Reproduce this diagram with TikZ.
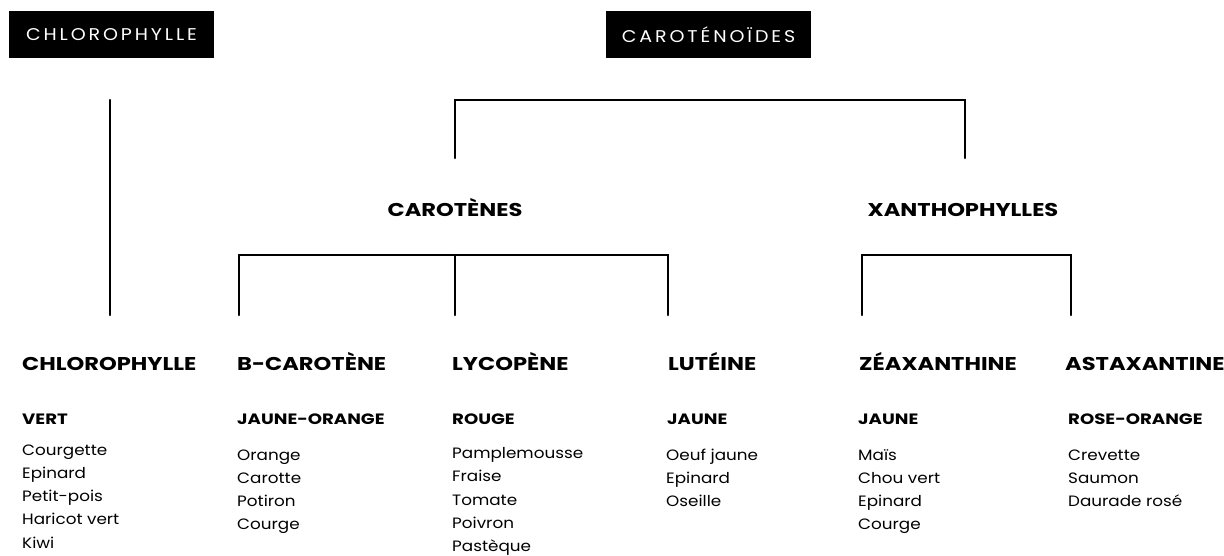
\documentclass[tikz,border=0pt]{standalone}
\usepackage{fontspec}
\setmainfont{Poppins}
\newfontfamily\boxfont[LetterSpace=17,FakeStretch=1.12]{Poppins}
\newfontfamily\headfont[FakeStretch=1.22]{Poppins}
\newfontfamily\colfont[FakeStretch=1.21]{Poppins}
\newfontfamily\itemfont[FakeStretch=1.12]{Poppins}
\begin{document}
\begin{tikzpicture}[x=1pt,y=-1pt,
  blackbox/.style={fill=black,minimum width=205pt,minimum height=47pt,inner sep=0pt,text=white,font=\boxfont\fontsize{17}{17}\selectfont},
  group/.style={font=\headfont\bfseries\fontsize{18.5}{18.5}\selectfont,inner sep=0pt,anchor=base},
  pigment/.style={font=\headfont\bfseries\fontsize{18.5}{18.5}\selectfont,inner sep=0pt,anchor=base west},
  colourlbl/.style={font=\colfont\bfseries\fontsize{15}{15}\selectfont,inner sep=0pt,anchor=base west},
  foodlist/.style={font=\itemfont\fontsize{15}{23.2}\selectfont,inner sep=0pt,anchor=base west,align=left},
  link/.style={line width=2.5pt,line cap=round}]
\useasboundingbox (0,0) rectangle (1224,555);
\fill[white] (0,0) rectangle (1224,555);

% top boxes
\node[blackbox] (boxchl) at (111.5,34.5) {CHLOROPHYLLE};
\node[blackbox] (boxcar) at (708.5,34.5) {CAROTÉNOÏDES};

% group labels
\node[group] (car) at (455,216) {CAROTÈNES};
\node[group] (xan) at (963,216) {XANTHOPHYLLES};

% pigments
\node[pigment] (p1) at (22,370) {CHLOROPHYLLE};
\node[pigment] (p2) at (237,370) {B-CAROTÈNE};
\node[pigment] (p3) at (452,370) {LYCOPÈNE};
\node[pigment] (p4) at (668,370) {LUTÉINE};
\node[pigment] (p5) at (859,370) {ZÉAXANTHINE};
\node[pigment] (p6) at (1065,370) {ASTAXANTINE};

% colours
\node[colourlbl] (c1) at (22,424.5) {VERT};
\node[colourlbl] (c2) at (237,424.5) {JAUNE-ORANGE};
\node[colourlbl] (c3) at (452,424.5) {ROUGE};
\node[colourlbl] (c4) at (667,424.5) {JAUNE};
\node[colourlbl] (c5) at (858,424.5) {JAUNE};
\node[colourlbl] (c6) at (1068,424.5) {ROSE-ORANGE};

% foods (anchored on the baseline of the last line)
\node[foodlist] (f1) at (22,548) {Courgette\\Epinard\\Petit-pois\\Haricot vert\\Kiwi};
\node[foodlist] (f2) at (237,529.6) {Orange\\Carotte\\Potiron\\Courge};
\node[foodlist] (f3) at (452,551.5) {Pamplemousse\\Fraise\\Tomate\\Poivron\\Pastèque};
\node[foodlist] (f4) at (666,506.4) {Oeuf jaune\\Epinard\\Oseille};
\node[foodlist] (f5) at (858,529.6) {Maïs\\Chou vert\\Epinard\\Courge};
\node[foodlist] (f6) at (1068,506.4) {Crevette\\Saumon\\Daurade rosé};

% connector coordinates
\coordinate (chlT) at (110,100);
\coordinate (chlB) at (110,315);
\coordinate (tl) at (455,158);
\coordinate (tlc) at (455,100);
\coordinate (trc) at (965,100);
\coordinate (tr) at (965,158);
\coordinate (ca1) at (239,315);
\coordinate (ca1t) at (239,255);
\coordinate (ca2) at (455,315);
\coordinate (ca2t) at (455,255);
\coordinate (ca3) at (668,315);
\coordinate (ca3t) at (668,255);
\coordinate (xa1) at (862,315);
\coordinate (xa1t) at (862,255);
\coordinate (xa2) at (1071,315);
\coordinate (xa2t) at (1071,255);

\draw[link] (chlT) -- (chlB);
\draw[link] (tl) -- (tlc) -- (trc) -- (tr);
\draw[link] (ca1) -- (ca1t) -- (ca3t) -- (ca3);
\draw[link] (ca2t) -- (ca2);
\draw[link] (xa1) -- (xa1t) -- (xa2t) -- (xa2);
\end{tikzpicture}
\end{document}
